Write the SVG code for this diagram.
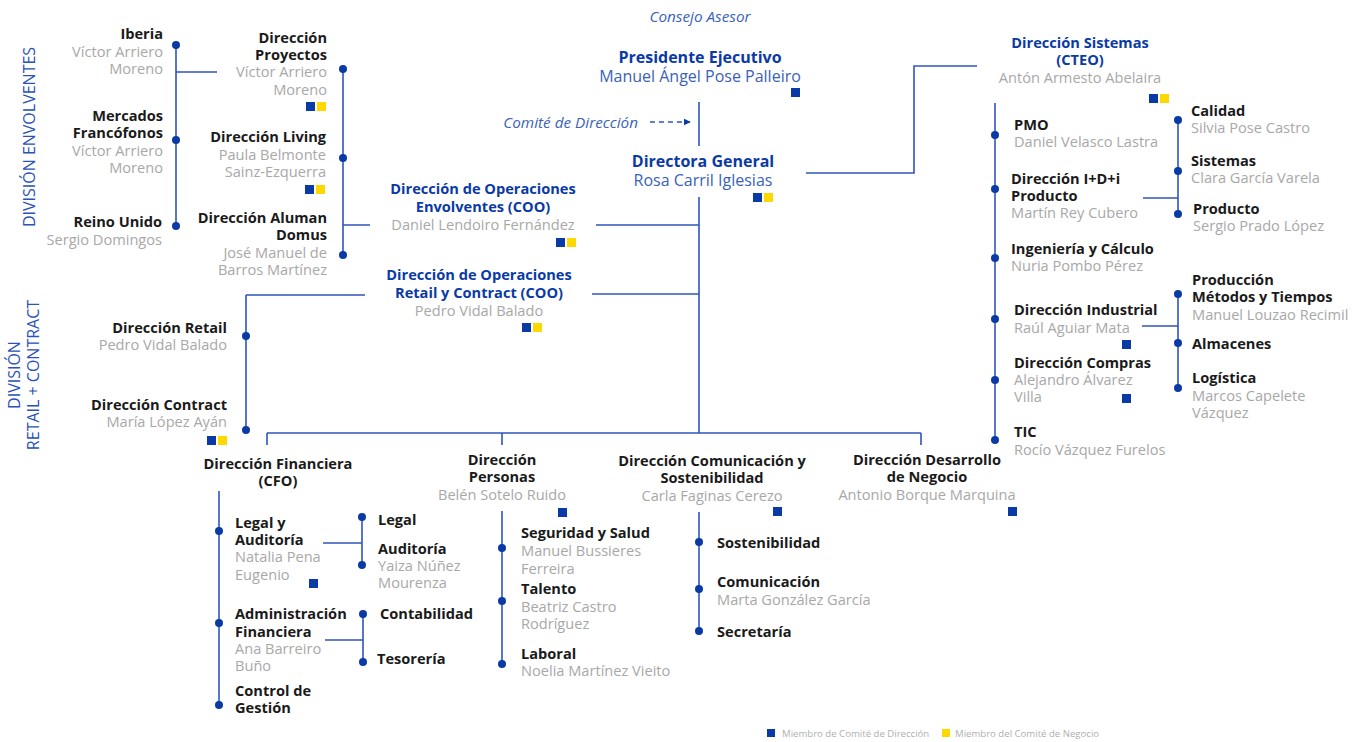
<svg xmlns="http://www.w3.org/2000/svg" width="1360" height="742" viewBox="0 0 1360 742">
<defs>
<style>
text{font-family:"Open Sans","Noto Sans","Liberation Sans",sans-serif;font-size:14.6px}
.b{font-weight:bold;fill:#1a1a1a}
.g{fill:#a8a8a8}
.t{font-weight:bold;fill:#0a3aa5}
.tb{fill:#3a62b8}
.i{font-style:italic;fill:#3a62b8;font-size:15.3px}
.big{font-size:16px}
.e{text-anchor:end}
.m{text-anchor:middle}
.div{fill:#2a52b8;font-size:16px}
.lg{fill:#b0b0b0;font-size:9.6px}
.ln{stroke:#2f55be;stroke-width:1.6;fill:none}
.dot{fill:#0a3aa5}
.sb{fill:#0a3aa5}
.sy{fill:#ffd800}
</style>
<marker id="ar" viewBox="0 0 10 10" refX="9" refY="5" markerWidth="7" markerHeight="7" orient="auto" markerUnits="userSpaceOnUse"><path d="M0,0 L10,5 L0,10 z" fill="#0a3aa5"/></marker>
</defs>
<rect width="1360" height="742" fill="#fff"/>

<g id="connectors">
<path class="ln" d="M176,45 V226 M176,72 H217"/>
<path class="ln" d="M343,69 V255 M343,225 H370 M596,225 H699"/>
<path class="ln" d="M246,295 H365 M246,295 V430 M592,294 H699"/>
<path class="ln" d="M699,102 V146 M699,197 V433"/>
<path class="ln" d="M650,122 H690" stroke-dasharray="5,4" marker-end="url(#ar)"/>
<path class="ln" d="M806,173 H914 V66 H977"/>
<path class="ln" d="M267,433 H921 M267,433 V445 M502,433 V445 M921,433 V445"/>
<path class="ln" d="M995,103 V440"/>
<path class="ln" d="M1178,120 V214 M1143,198 H1178"/>
<path class="ln" d="M1178,294 V388 M1142,326 H1178"/>
<path class="ln" d="M219,491 V705"/>
<path class="ln" d="M362,517 V565 M323,543 H362"/>
<path class="ln" d="M363,614 V662 M325,640 H363"/>
<path class="ln" d="M502,511 V664"/>
<path class="ln" d="M699,512 V632"/>
<g class="dot">
<circle cx="176" cy="45" r="4"/><circle cx="176" cy="140" r="4"/><circle cx="176" cy="226" r="4"/>
<circle cx="343" cy="69" r="4"/><circle cx="343" cy="158" r="4"/><circle cx="343" cy="255" r="4"/>
<circle cx="246" cy="336" r="4"/><circle cx="246" cy="430" r="4"/>
<circle cx="995" cy="135" r="4"/><circle cx="995" cy="189" r="4"/><circle cx="995" cy="258" r="4"/><circle cx="995" cy="319" r="4"/><circle cx="995" cy="380" r="4"/><circle cx="995" cy="440" r="4"/>
<circle cx="1178" cy="120" r="4"/><circle cx="1178" cy="171" r="4"/><circle cx="1178" cy="214" r="4"/>
<circle cx="1178" cy="294" r="4"/><circle cx="1178" cy="343" r="4"/><circle cx="1178" cy="388" r="4"/>
<circle cx="219" cy="531" r="4"/><circle cx="219" cy="623" r="4"/><circle cx="219" cy="705" r="4"/>
<circle cx="362" cy="517" r="4"/><circle cx="362" cy="565" r="4"/>
<circle cx="363" cy="614" r="4"/><circle cx="363" cy="662" r="4"/>
<circle cx="502" cy="548" r="4"/><circle cx="502" cy="601" r="4"/><circle cx="502" cy="664" r="4"/>
<circle cx="699" cy="542" r="4"/><circle cx="699" cy="589" r="4"/><circle cx="699" cy="631" r="4"/>
</g>
</g>

<g id="div-envolventes"><text class="div m" transform="translate(35,137) rotate(-90)">DIVISIÓN ENVOLVENTES</text></g>
<g id="div-retail"><text class="div m" transform="translate(19.5,375) rotate(-90)">DIVISIÓN</text><text class="div m" transform="translate(38.5,375) rotate(-90)">RETAIL + CONTRACT</text></g>

<g id="iberia"><text class="b e" x="163" y="39">Iberia</text><text class="g e" x="163" y="57">Víctor Arriero</text><text class="g e" x="163" y="74">Moreno</text></g>
<g id="francofonos"><text class="b e" x="163" y="121">Mercados</text><text class="b e" x="163" y="138">Francófonos</text><text class="g e" x="163" y="156">Víctor Arriero</text><text class="g e" x="163" y="173">Moreno</text></g>
<g id="reino-unido"><text class="b e" x="162" y="227">Reino Unido</text><text class="g e" x="162" y="245">Sergio Domingos</text></g>

<g id="proyectos"><text class="b e" x="327" y="43">Dirección</text><text class="b e" x="327" y="60">Proyectos</text><text class="g e" x="327" y="77">Víctor Arriero</text><text class="g e" x="327" y="95">Moreno</text><rect class="sb" x="306" y="102" width="9" height="9"/><rect class="sy" x="317" y="102" width="9" height="9"/></g>
<g id="living"><text class="b e" x="326" y="142">Dirección Living</text><text class="g e" x="326" y="160">Paula Belmonte</text><text class="g e" x="326" y="177">Sainz-Ezquerra</text><rect class="sb" x="305" y="185" width="9" height="9"/><rect class="sy" x="316" y="185" width="9" height="9"/></g>
<g id="aluman"><text class="b e" x="327" y="223">Dirección Aluman</text><text class="b e" x="327" y="240">Domus</text><text class="g e" x="327" y="258">José Manuel de</text><text class="g e" x="327" y="275">Barros Martínez</text></g>

<g id="coo-envolventes"><text class="t m" x="483" y="194">Dirección de Operaciones</text><text class="t m" x="483" y="212">Envolventes (COO)</text><text class="g m" x="483" y="230">Daniel Lendoiro Fernández</text><rect class="sb" x="556" y="238" width="9" height="9"/><rect class="sy" x="567" y="238" width="9" height="9"/></g>
<g id="coo-retail"><text class="t m" x="479" y="280">Dirección de Operaciones</text><text class="t m" x="479" y="298">Retail y Contract (COO)</text><text class="g m" x="479" y="316">Pedro Vidal Balado</text><rect class="sb" x="522" y="323" width="9" height="9"/><rect class="sy" x="533" y="323" width="9" height="9"/></g>

<g id="retail"><text class="b e" x="227" y="333">Dirección Retail</text><text class="g e" x="227" y="350">Pedro Vidal Balado</text></g>
<g id="contract"><text class="b e" x="227" y="410">Dirección Contract</text><text class="g e" x="227" y="427">María López Ayán</text><rect class="sb" x="207" y="436" width="9" height="9"/><rect class="sy" x="218" y="436" width="9" height="9"/></g>

<g id="consejo"><text class="i m" x="700" y="22">Consejo Asesor</text></g>
<g id="presidente"><text class="t m big" x="700" y="63">Presidente Ejecutivo</text><text class="tb m big" x="700" y="82">Manuel Ángel Pose Palleiro</text><rect class="sb" x="791" y="88" width="9" height="9"/></g>
<g id="comite"><text class="i e" x="638" y="128">Comité de Dirección</text></g>
<g id="directora"><text class="t m big" x="703" y="167">Directora General</text><text class="tb m big" x="703" y="186">Rosa Carril Iglesias</text><rect class="sb" x="753" y="193" width="9" height="9"/><rect class="sy" x="764" y="193" width="9" height="9"/></g>

<g id="sistemas"><text class="t m" x="1080" y="48">Dirección Sistemas</text><text class="t m" x="1080" y="65">(CTEO)</text><text class="g m" x="1080" y="83">Antón Armesto Abelaira</text><rect class="sb" x="1149" y="94" width="9" height="9"/><rect class="sy" x="1160" y="94" width="9" height="9"/></g>
<g id="pmo"><text class="b" x="1014" y="130">PMO</text><text class="g" x="1014" y="147">Daniel Velasco Lastra</text></g>
<g id="idi"><text class="b" x="1011" y="184">Dirección I+D+i</text><text class="b" x="1011" y="201">Producto</text><text class="g" x="1011" y="218">Martín Rey Cubero</text></g>
<g id="ingenieria"><text class="b" x="1011" y="254">Ingeniería y Cálculo</text><text class="g" x="1011" y="271">Nuria Pombo Pérez</text></g>
<g id="industrial"><text class="b" x="1014" y="315">Dirección Industrial</text><text class="g" x="1014" y="333">Raúl Aguiar Mata</text><rect class="sb" x="1122" y="340" width="9" height="9"/></g>
<g id="compras"><text class="b" x="1014" y="368">Dirección Compras</text><text class="g" x="1014" y="385">Alejandro Álvarez</text><text class="g" x="1014" y="402">Villa</text><rect class="sb" x="1122" y="394" width="9" height="9"/></g>
<g id="tic"><text class="b" x="1014" y="437">TIC</text><text class="g" x="1014" y="455">Rocío Vázquez Furelos</text></g>
<g id="calidad"><text class="b" x="1191" y="116">Calidad</text><text class="g" x="1191" y="133">Silvia Pose Castro</text></g>
<g id="sist"><text class="b" x="1191" y="166">Sistemas</text><text class="g" x="1191" y="183">Clara García Varela</text></g>
<g id="producto"><text class="b" x="1193" y="214">Producto</text><text class="g" x="1193" y="231">Sergio Prado López</text></g>
<g id="produccion"><text class="b" x="1192" y="285">Producción</text><text class="b" x="1192" y="302">Métodos y Tiempos</text><text class="g" x="1192" y="320">Manuel Louzao Recimil</text></g>
<g id="almacenes"><text class="b" x="1192" y="349">Almacenes</text></g>
<g id="logistica"><text class="b" x="1192" y="383">Logística</text><text class="g" x="1192" y="401">Marcos Capelete</text><text class="g" x="1192" y="418">Vázquez</text></g>

<g id="cfo"><text class="b m" x="278" y="469">Dirección Financiera</text><text class="b m" x="278" y="486">(CFO)</text></g>
<g id="legal-auditoria"><text class="b" x="235" y="528">Legal y</text><text class="b" x="235" y="545">Auditoría</text><text class="g" x="235" y="562">Natalia Pena</text><text class="g" x="235" y="580">Eugenio</text><rect class="sb" x="309" y="579" width="9" height="9"/></g>
<g id="admin"><text class="b" x="235" y="619">Administración</text><text class="b" x="235" y="637">Financiera</text><text class="g" x="235" y="654">Ana Barreiro</text><text class="g" x="235" y="671">Buño</text></g>
<g id="control"><text class="b" x="235" y="696">Control de</text><text class="b" x="235" y="713">Gestión</text></g>
<g id="legal"><text class="b" x="378" y="525">Legal</text></g>
<g id="auditoria"><text class="b" x="378" y="554">Auditoría</text><text class="g" x="378" y="571">Yaiza Núñez</text><text class="g" x="378" y="588">Mourenza</text></g>
<g id="contabilidad"><text class="b" x="380" y="619">Contabilidad</text></g>
<g id="tesoreria"><text class="b" x="377" y="664">Tesorería</text></g>

<g id="personas"><text class="b m" x="502" y="465">Dirección</text><text class="b m" x="502" y="482">Personas</text><text class="g m" x="502" y="500">Belén Sotelo Ruido</text><rect class="sb" x="558" y="508" width="9" height="9"/></g>
<g id="seguridad"><text class="b" x="521" y="538">Seguridad y Salud</text><text class="g" x="521" y="556">Manuel Bussieres</text><text class="g" x="521" y="574">Ferreira</text></g>
<g id="talento"><text class="b" x="521" y="594">Talento</text><text class="g" x="521" y="612">Beatriz Castro</text><text class="g" x="521" y="629">Rodríguez</text></g>
<g id="laboral"><text class="b" x="521" y="659">Laboral</text><text class="g" x="521" y="676">Noelia Martínez Vieito</text></g>

<g id="comunicacion-dir"><text class="b m" x="712" y="466">Dirección Comunicación y</text><text class="b m" x="712" y="483">Sostenibilidad</text><text class="g m" x="712" y="501">Carla Faginas Cerezo</text><rect class="sb" x="773" y="507" width="9" height="9"/></g>
<g id="sostenibilidad"><text class="b" x="717" y="548">Sostenibilidad</text></g>
<g id="comunicacion"><text class="b" x="717" y="587">Comunicación</text><text class="g" x="717" y="605">Marta González García</text></g>
<g id="secretaria"><text class="b" x="717" y="637">Secretaría</text></g>

<g id="desarrollo"><text class="b m" x="927" y="465">Dirección Desarrollo</text><text class="b m" x="927" y="482">de Negocio</text><text class="g m" x="927" y="500">Antonio Borque Marquina</text><rect class="sb" x="1008" y="507" width="9" height="9"/></g>

<g id="legend"><rect class="sb" x="767" y="729" width="8" height="8"/><text class="lg" x="782" y="737">Miembro de Comité de Dirección</text><rect class="sy" x="942" y="729" width="8" height="8"/><text class="lg" x="955" y="737">Miembro del Comité de Negocio</text></g>
</svg>
